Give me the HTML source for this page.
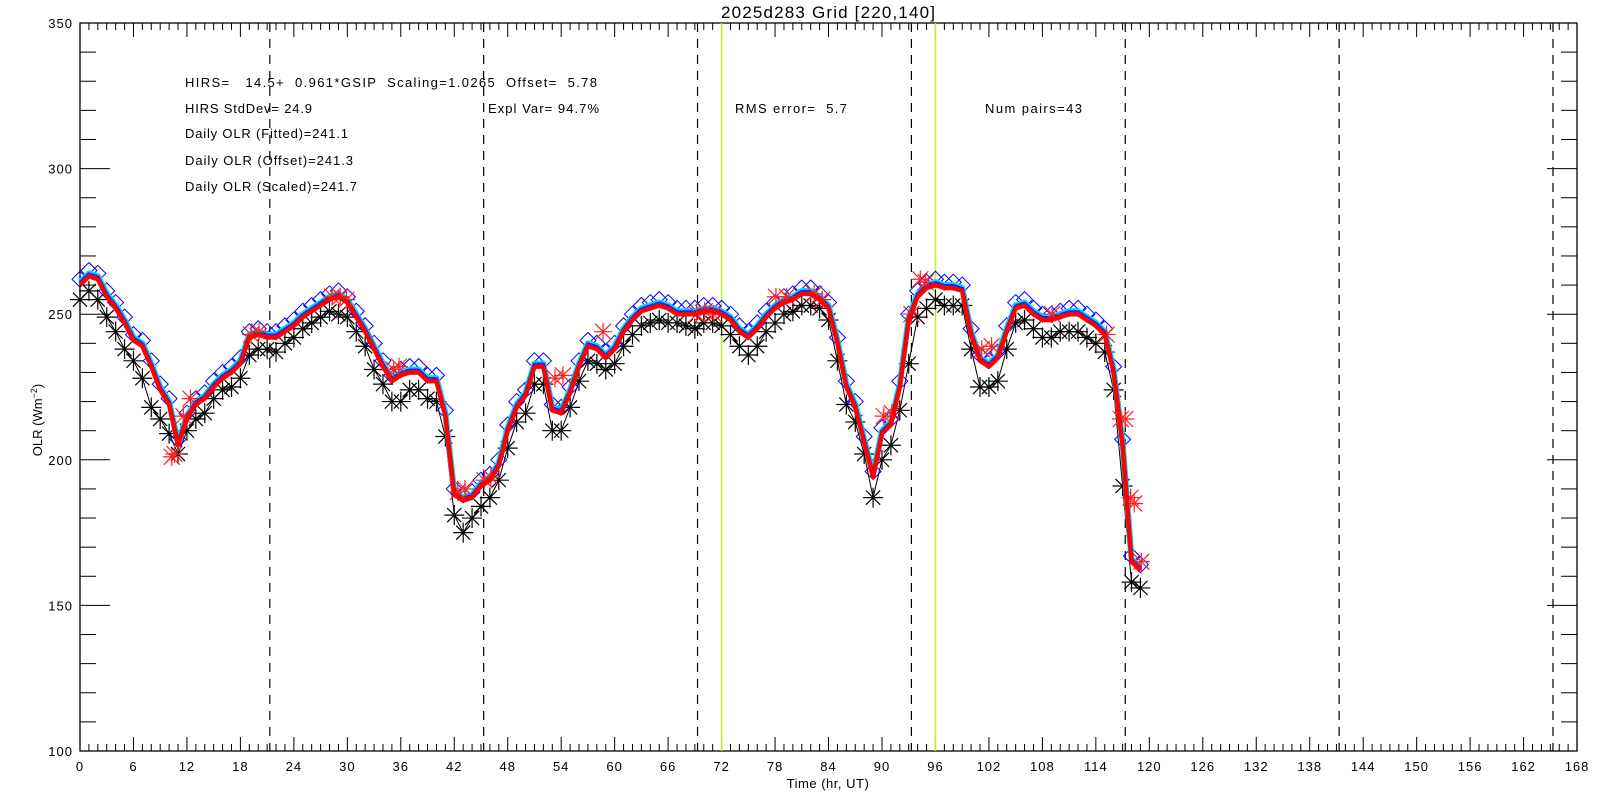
<!DOCTYPE html>
<html><head><meta charset="utf-8"><style>
html,body{margin:0;padding:0;background:#fff;}
svg{display:block;font-family:"Liberation Sans",sans-serif;}
</style></head><body>
<svg id="chart" width="1600" height="800" viewBox="0 0 1600 800" xmlns="http://www.w3.org/2000/svg">
<rect width="1600" height="800" fill="#fff"/>
<text x="721" y="18" font-size="17" textLength="214" lengthAdjust="spacing">2025d283 Grid [220,140]</text>
<g font-size="13" fill="#000">
<text x="185" y="87" xml:space="preserve" textLength="412" lengthAdjust="spacing">HIRS=   14.5+  0.961*GSIP  Scaling=1.0265  Offset=  5.78</text>
<text x="185" y="113" textLength="127" lengthAdjust="spacing">HIRS StdDev= 24.9</text>
<text x="185" y="138" textLength="163" lengthAdjust="spacing">Daily OLR (Fitted)=241.1</text>
<text x="185" y="165" textLength="168" lengthAdjust="spacing">Daily OLR (Offset)=241.3</text>
<text x="185" y="191" textLength="172" lengthAdjust="spacing">Daily OLR (Scaled)=241.7</text>
<text x="488" y="113" textLength="111" lengthAdjust="spacing">Expl Var= 94.7%</text>
<text x="735" y="113" xml:space="preserve" textLength="112" lengthAdjust="spacing">RMS error=  5.7</text>
<text x="985" y="113" textLength="97" lengthAdjust="spacing">Num pairs=43</text>
</g>
<g id="axes"></g>
<g id="plot"></g>
<text x="828" y="788" font-size="13" text-anchor="middle" letter-spacing="0.5">Time (hr, UT)</text>
<text transform="translate(42,420) rotate(-90)" font-size="13" text-anchor="middle">OLR (Wm<tspan font-size="9" dy="-5">−2</tspan><tspan dy="5">)</tspan></text>
</svg>
<script>
const xTicks=[0,6,12,18,24,30,36,42,48,54,60,66,72,78,84,90,96,102,108,114,120,126,132,138,144,150,156,162,168];
const yTicks=[100,150,200,250,300,350];
const dashedHours=[21.3,45.3,69.3,93.3,117.3,141.3,165.3];
const greenHours=[72,96];
const fitted=[260,263,262,256,252,247,241,239,232,224,219,205,214,219,221,225,228,230,233,242,243,242,242,244,246,249,251,253,255,256,254,249,244,238,232,227,229,230,230,227,227,215,188,186,187,191,193,198,210,218,222,232,232,217,216,223,232,239,238,235,238,244,248,251,252,253,252,250,250,250,251,251,250,248,244,242,245,249,252,254,255,257,257,255,252,240,225,218,206,194,209,212,225,248,256,259,260,259,259,258,243,234,232,235,244,252,253,250,248,248,249,250,250,248,246,243,230,205,165,162];
const observed=[255,258,255,249,244,238,234,228,218,214,209,202,210,214,216,221,224,225,228,236,238,238,237,240,242,245,247,249,251,250,249,244,239,231,226,220,220,224,224,221,220,208,181,175,180,184,187,193,204,213,216,226,226,210,210,218,227,234,233,231,233,239,243,246,247,248,247,247,246,245,247,247,246,243,239,236,239,244,247,250,251,253,253,252,248,234,219,213,202,187,200,205,217,233,249,252,255,253,253,253,238,225,225,227,238,247,248,245,242,242,244,244,244,242,240,237,224,191,158,156];
const diamonds=fitted.map(v=>v+2);
const crossHours=[10.3,10.6,11.6,12.4,19.2,20.1,28.3,29.2,29.9,35.2,35.8,42.4,43.2,45.4,46.1,53.3,54.2,58.7,69.2,70.1,71.1,78.1,79.3,82.4,83.3,90.2,91.1,93.3,94.3,94.9,101.2,102.3,109.1,115.2,116.8,117.3,117.9,118.3,119.1];
const crossVals=[201,202,215,221,243,244,256,256,255,231,232,189,190,193,194,228,229,244,250,251,250,256,256,257,255,215,216,250,262,261,238,239,250,243,214,214,187,185,165];
const X=h=>80+h*8.911, Y=v=>23+(350-v)*2.912;
const NS="http://www.w3.org/2000/svg";
function mk(tag,attrs,parent){const e=document.createElementNS(NS,tag);for(const k in attrs)e.setAttribute(k,attrs[k]);parent.appendChild(e);return e;}
const axes=document.getElementById('axes'), plot=document.getElementById('plot');
const frame=mk('rect',{x:80,y:23,width:1497,height:728,fill:'none',stroke:'#000','stroke-width':1.3},axes);


for(let h=0;h<=168;h++){const big=h%6===0;const L=big?14:7;
 mk('line',{x1:X(h),x2:X(h),y1:751,y2:751-L,stroke:'#000','stroke-width':1},axes);
 mk('line',{x1:X(h),x2:X(h),y1:23,y2:23+L,stroke:'#000','stroke-width':1},axes);}
xTicks.forEach(h=>{const t=mk('text',{x:X(h),y:771,'font-size':13,'text-anchor':'middle','letter-spacing':1},axes);t.textContent=h;
 
 });
for(let v=100;v<=350;v+=10){const big=v%50===0;const L=big?30:16;
 mk('line',{x1:80,x2:80+L,y1:Y(v),y2:Y(v),stroke:'#000','stroke-width':1},axes);
 mk('line',{x1:1577,x2:1577-L,y1:Y(v),y2:Y(v),stroke:'#000','stroke-width':1},axes);}
yTicks.forEach(v=>{const t=mk('text',{x:73,y:Y(v)+5,'font-size':13,'text-anchor':'end','letter-spacing':1},axes);t.textContent=v;
 
 });
dashedHours.forEach(h=>{const l=mk('line',{x1:X(h),x2:X(h),y1:23,y2:751,stroke:'#000','stroke-width':1.2,'stroke-dasharray':'9,7'},plot);
 
 });
greenHours.forEach(h=>{const l=mk('line',{x1:X(h),x2:X(h),y1:23,y2:751,stroke:'#b8f020','stroke-width':1.5},plot);
 
 });
const pts=(arr,dy)=>arr.map((v,i)=>X(i)+','+(Y(v)+(dy||0))).join(' ');
const obsLine=mk('polyline',{points:pts(observed),fill:'none',stroke:'#000','stroke-width':1},plot);


function star(cx,cy,r,col,n){const g=mk('g',{stroke:col,'stroke-width':1.2},plot);
 for(let k=0;k<n;k++){const a=Math.PI*k/n;mk('line',{x1:cx-r*Math.cos(a),y1:cy-r*Math.sin(a),x2:cx+r*Math.cos(a),y2:cy+r*Math.sin(a)},g);}return g;}
observed.forEach((v,i)=>{const g=star(X(i),Y(v),10,'#000',4);
 
 });
diamonds.forEach((v,i)=>{const cx=X(i),cy=Y(v);const d=mk('polygon',{points:`${cx},${cy-8} ${cx+8},${cy} ${cx},${cy+8} ${cx-8},${cy}`,fill:'none',stroke:'#0000ff','stroke-width':1},plot);
 
 });
const cy1=mk('polyline',{points:pts(fitted,-3),fill:'none',stroke:'#00d8ff','stroke-width':6,'stroke-linejoin':'round'},plot);


const bl=mk('polyline',{points:pts(fitted,-2),fill:'none',stroke:'#2020ff','stroke-width':4,'stroke-linejoin':'round'},plot);


crossHours.forEach((h,i)=>{const g=mk('g',{stroke:'#ff2020','stroke-width':1.2},plot);
 const cx=X(h),cy=Y(crossVals[i]);
 mk('line',{x1:cx-8,y1:cy-8,x2:cx+8,y2:cy+8},g);mk('line',{x1:cx-8,y1:cy+8,x2:cx+8,y2:cy-8},g);
 mk('line',{x1:cx-9,y1:cy,x2:cx+9,y2:cy},g);mk('line',{x1:cx,y1:cy-9,x2:cx,y2:cy+9},g);
 
 });
const rl=mk('polyline',{points:pts(fitted),fill:'none',stroke:'#ff0000','stroke-width':4.5,'stroke-linejoin':'round'},plot);


</script>
</body></html>
